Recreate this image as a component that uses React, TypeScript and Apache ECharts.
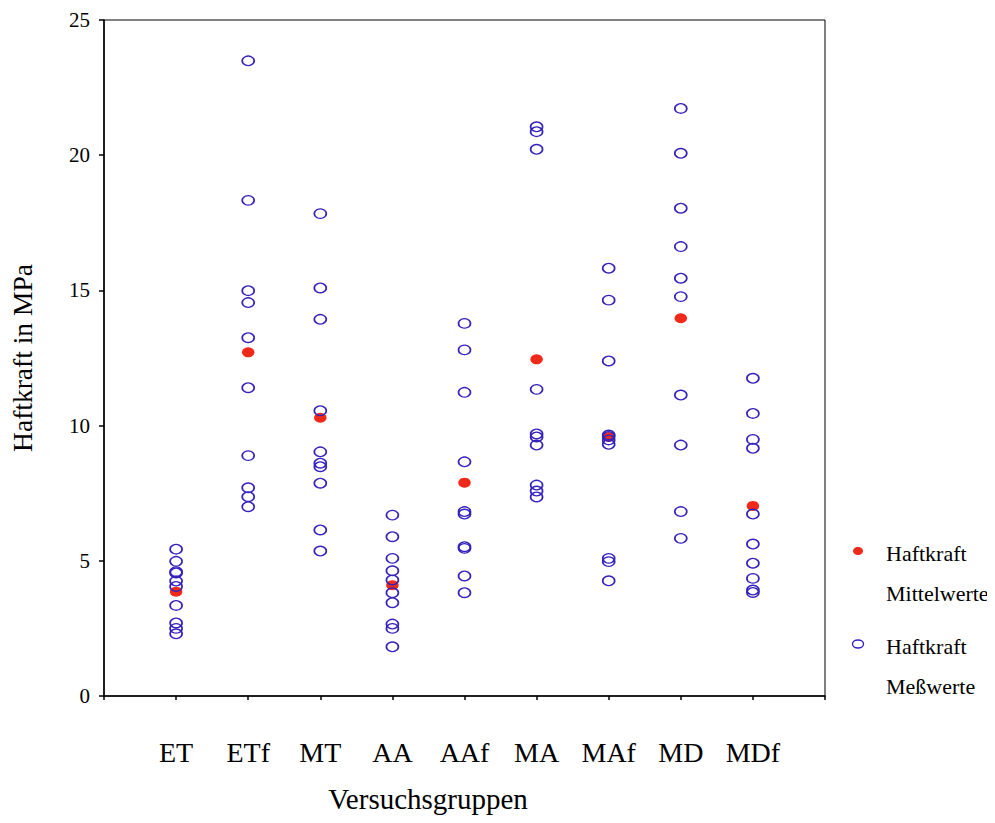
import React, { useEffect, useRef } from "react";
import * as echarts from "echarts";

const groups = ["ET", "ETf", "MT", "AA", "AAf", "MA", "MAf", "MD", "MDf"];

const ET = [5.43, 4.98, 4.6, 4.55, 4.25, 4.05, 3.35, 2.7, 2.5, 2.3];
const ETf = [23.49, 18.33, 14.99, 14.55, 13.25, 11.4, 8.89, 7.7, 7.37, 7.0];
const MT = [17.84, 15.09, 13.93, 10.55, 9.03, 8.61, 8.48, 7.87, 6.14, 5.36];
const AA = [6.69, 5.89, 5.09, 4.63, 4.29, 3.82, 3.45, 2.66, 2.5, 1.82];
const AAf = [13.78, 12.8, 11.23, 8.66, 6.82, 6.73, 5.52, 5.46, 4.44, 3.82];
const MA = [21.05, 20.87, 20.22, 11.34, 9.69, 9.58, 9.28, 7.8, 7.58, 7.36];
const MAf = [15.82, 14.64, 12.39, 9.65, 9.6, 9.47, 9.31, 5.09, 4.97, 4.26];
const MD = [21.73, 20.07, 18.04, 16.62, 15.45, 14.77, 11.13, 9.28, 6.82, 5.83];
const MDf = [11.75, 10.45, 9.49, 9.16, 6.73, 5.62, 4.91, 4.35, 3.92, 3.83];

const measured = [ET, ETf, MT, AA, AAf, MA, MAf, MD, MDf];
const means = [3.86, 12.71, 10.29, 4.1, 7.89, 12.45, 9.58, 13.97, 7.03];

const yTicks = [0, 5, 10, 15, 20, 25];

const FONT = "'Liberation Serif', 'Times New Roman', serif";
const BLUE = "#3322bb";
const RED = "#f02a1a";

export default function App() {
  const ref = useRef<HTMLDivElement>(null);

  useEffect(() => {
    if (!ref.current) return;
    const chart = echarts.init(ref.current, undefined, { renderer: "svg" });

    const measuredData: number[][] = [];
    measured.forEach((arr, i) => arr.forEach((v) => measuredData.push([i + 1, v])));
    const meanData = means.map((v, i) => [i + 1, v]);

    const legendText = (text: string, x: number, y: number) => ({
      type: "text",
      x,
      y,
      style: {
        text,
        fontSize: 22,
        fontFamily: FONT,
        fill: "#000",
        verticalAlign: "middle",
        align: "left",
      },
    });

    chart.setOption({
      animation: false,
      backgroundColor: "#fff",
      textStyle: { fontFamily: FONT },
      grid: {
        left: 104,
        top: 20,
        right: 170,
        bottom: 127,
        show: true,
        borderColor: "#000",
        borderWidth: 1,
      },
      xAxis: {
        type: "value",
        min: 0,
        max: groups.length + 1,
        interval: 1,
        splitLine: { show: false },
        axisLine: { onZero: false, lineStyle: { color: "#000", width: 1.5 } },
        axisTick: { show: true, length: 4, lineStyle: { color: "#000", width: 1.5 } },
        axisLabel: {
          margin: 42,
          fontSize: 28,
          color: "#000",
          fontFamily: FONT,
          formatter: (v: number) => (v >= 1 && v <= groups.length ? groups[v - 1] : ""),
        },
        name: "Versuchsgruppen",
        nameLocation: "middle",
        nameGap: 88,
        nameTextStyle: { fontSize: 29, color: "#000", fontFamily: FONT, padding: [0, 73, 0, 0] },
      },
      yAxis: {
        type: "value",
        min: yTicks[0],
        max: yTicks[yTicks.length - 1],
        interval: 5,
        splitLine: { show: false },
        axisLine: { lineStyle: { color: "#000", width: 1.5 } },
        axisTick: { show: true, length: 5, lineStyle: { color: "#000", width: 1.5 } },
        axisLabel: { margin: 14, fontSize: 21, color: "#000", fontFamily: FONT },
        name: "Haftkraft in MPa",
        nameLocation: "middle",
        nameGap: 68,
        nameRotate: 90,
        nameTextStyle: { fontSize: 27.5, color: "#000", fontFamily: FONT },
      },
      series: [
        {
          name: "Haftkraft Mittelwerte",
          type: "scatter",
          data: meanData,
          symbol: "circle",
          symbolSize: [12.5, 10],
          itemStyle: { color: RED, borderWidth: 0, opacity: 1 },
          z: 2,
        },
        {
          name: "Haftkraft Meßwerte",
          type: "scatter",
          data: measuredData,
          symbol: "circle",
          symbolSize: [12, 9.5],
          itemStyle: { color: "rgba(0,0,0,0)", borderColor: BLUE, borderWidth: 1.5, opacity: 1 },
          z: 3,
        },
      ],
      graphic: [
        {
          type: "ellipse",
          shape: { cx: 858, cy: 551, rx: 5, ry: 4 },
          style: { fill: RED },
        },
        legendText("Haftkraft", 886, 553),
        legendText("Mittelwerte", 886, 593),
        {
          type: "ellipse",
          shape: { cx: 858, cy: 644, rx: 5.5, ry: 4 },
          style: { fill: "none", stroke: BLUE, lineWidth: 1.4 },
        },
        legendText("Haftkraft", 886, 646),
        legendText("Meßwerte", 886, 686),
      ],
    });

    return () => chart.dispose();
  }, []);

  return <div ref={ref} style={{ width: 995, height: 823, margin: -8 }} />;
}
